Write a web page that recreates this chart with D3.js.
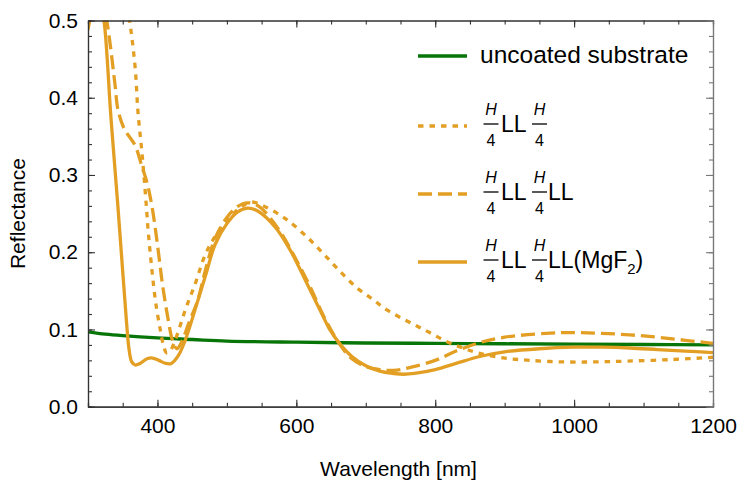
<!DOCTYPE html>
<html>
<head>
<meta charset="utf-8">
<script src="https://cdn.jsdelivr.net/npm/d3@7"></script>
<style>
  body { margin: 0; background: #fff; }
  svg text { font-family: "Liberation Sans", Arial, sans-serif; fill: #000; }
</style>
</head>
<body>
<svg id="chart" width="737" height="482"></svg>
<script>
// reflectance curves, [wavelength nm, reflectance]
var uncoated = [[300,0.097],[325,0.094],[350,0.092],[400,0.089],[450,0.087],[500,0.085],[600,0.0835],
  [700,0.0825],[800,0.082],[900,0.0815],[1000,0.081],[1100,0.0805],[1200,0.080]]

var quarterLL = [[300,0.72],[340,0.62],[360,0.5],[368,0.438],[372,0.381],[378,0.326],[384,0.26],[387,0.224],
  [397,0.138],[404,0.1],[408,0.082],[413,0.07],[418,0.072],[425,0.085],[440,0.125],[447,0.142],[454,0.158],
  [468,0.195],[480,0.216],[500,0.24],[518,0.257],[535,0.265],[555,0.259],[575,0.249],[591,0.239],[615,0.22],
  [638,0.199],[660,0.178],[687,0.154],[710,0.139],[731,0.125],[768,0.107],[792,0.096],[817,0.084],[840,0.076],
  [864,0.069],[900,0.063],[936,0.06],[984,0.058],[1030,0.058],[1076,0.059],[1140,0.061],[1200,0.064]]

var quarterLL2 = [[300,0.58],[315,0.55],[327,0.5],[339,0.416],[343,0.385],[352,0.36],[360,0.349],[368,0.338],
  [378,0.31],[385,0.29],[392,0.26],[400,0.21],[407,0.16],[415,0.115],[422,0.085],[428,0.075],[435,0.084],
  [445,0.108],[458,0.138],[470,0.18],[483,0.218],[500,0.245],[515,0.259],[530,0.264],[545,0.26],[560,0.247],
  [580,0.222],[600,0.19],[620,0.155],[640,0.116],[663,0.08],[680,0.062],[700,0.052],[720,0.048],[740,0.047],
  [760,0.05],[800,0.06],[830,0.072],[864,0.083],[900,0.09],[960,0.095],[1000,0.096],[1040,0.095],
  [1080,0.093],[1120,0.09],[1160,0.086],[1200,0.082]]

var quarterMgF2 = [[300,0.488],[305,0.51],[312,0.53],[318,0.52],[323,0.5],[333,0.375],[343,0.26],[350,0.175],
  [355,0.115],[359,0.075],[363,0.058],[368,0.054],[375,0.056],[385,0.062],[393,0.063],[402,0.06],[412,0.056],
  [420,0.056],[430,0.066],[440,0.086],[455,0.128],[470,0.172],[483,0.21],[500,0.237],[515,0.252],[530,0.257],
  [545,0.253],[570,0.232],[591,0.203],[615,0.16],[639,0.116],[648,0.1],[663,0.081],[680,0.065],[700,0.053],
  [720,0.046],[740,0.043],[755,0.042],[770,0.043],[800,0.048],[830,0.056],[864,0.065],[900,0.071],
  [950,0.075],[1000,0.077],[1040,0.077],[1080,0.076],[1120,0.074],[1160,0.072],[1200,0.070]]

var xTicks = [400, 600, 800, 1000, 1200]
var yTicks = [0, 0.1, 0.2, 0.3, 0.4, 0.5]
var xMinor = d3.range(300, 1201, 50)
var yMinor = d3.range(0, 0.501, 0.02)

var orange = "#e29f24"
var green = "#087508"

var series = [
  {data: uncoated, color: green, dash: null},
  {data: quarterLL, color: orange, dash: "5.5,6"},
  {data: quarterLL2, color: orange, dash: "14,6"},
  {data: quarterMgF2, color: orange, dash: null}
]

var width = 737, height = 482
var margin = {top: 20.5, right: 24, bottom: 75.3, left: 88}
var w = width - margin.left - margin.right
var h = height - margin.top - margin.bottom

var svg = d3.select("#chart")
var g = svg.append("g").attr("transform", "translate(" + margin.left + "," + margin.top + ")")

var x = d3.scaleLinear().domain([300, 1200]).range([0, w])
var y = d3.scaleLinear().domain([0, 0.5]).range([h, 0])

g.append("clipPath").attr("id", "clip")
  .append("rect").attr("width", w).attr("height", h)

var line = d3.line()
  .x(function(d) { return x(d[0]) })
  .y(function(d) { return y(d[1]) })
  .curve(d3.curveCatmullRom.alpha(0.5))

g.append("g").attr("clip-path", "url(#clip)")
  .selectAll("path")
  .data(series)
  .enter()
    .append("path")
    .attr("d", function(d) { return line(d.data) })
    .attr("fill", "none")
    .attr("stroke", function(d) { return d.color })
    .attr("stroke-width", 3.3)
    .attr("stroke-dasharray", function(d) { return d.dash })

// frame with inward ticks on all sides
function frameAxis(axis, tr, color) {
  var a = g.append("g").attr("transform", tr).call(axis)
  a.select(".domain").attr("stroke", color).attr("stroke-width", 1.2)
  a.selectAll(".tick line").attr("stroke", color).attr("stroke-width", 1.1)
  a.selectAll("text").attr("font-size", 21).attr("font-family", null).attr("fill", "#000")
  return a
}

frameAxis(d3.axisBottom(x).tickValues(xMinor).tickSize(-4).tickFormat(""), "translate(0," + h + ")", "#333")
frameAxis(d3.axisBottom(x).tickValues(xTicks).tickSizeInner(-7).tickSizeOuter(0).tickPadding(11).tickFormat(d3.format("d")), "translate(0," + h + ")", "#333")
frameAxis(d3.axisTop(x).tickValues(xMinor).tickSize(-4).tickFormat(""), "translate(0,0)", "#333")
frameAxis(d3.axisTop(x).tickValues(xTicks).tickSizeInner(-7).tickSizeOuter(0).tickFormat(""), "translate(0,0)", "#333")
frameAxis(d3.axisLeft(y).tickValues(yMinor).tickSize(-4).tickFormat(""), "translate(0,0)", "#333")
frameAxis(d3.axisLeft(y).tickValues(yTicks).tickSizeInner(-7).tickSizeOuter(0).tickPadding(10).tickFormat(d3.format(".1f")), "translate(0,0)", "#333")
frameAxis(d3.axisRight(y).tickValues(yMinor).tickSize(-4).tickFormat(""), "translate(" + w + ",0)", "#777")
frameAxis(d3.axisRight(y).tickValues(yTicks).tickSizeInner(-7).tickSizeOuter(0).tickFormat(""), "translate(" + w + ",0)", "#777")

// axis titles
svg.append("text")
  .attr("x", margin.left + w / 2 - 2)
  .attr("y", 476)
  .attr("text-anchor", "middle")
  .attr("font-size", 21)
  .text("Wavelength [nm]")

svg.append("text")
  .attr("transform", "translate(25," + (margin.top + h / 2) + ") rotate(-90)")
  .attr("text-anchor", "middle")
  .attr("font-size", 21)
  .text("Reflectance")

// legend
var legendY = [56, 126, 194, 262]
var lg = svg.append("g")

series.forEach(function(s, i) {
  lg.append("line")
    .attr("x1", 418).attr("x2", 467)
    .attr("y1", legendY[i]).attr("y2", legendY[i])
    .attr("stroke", s.color)
    .attr("stroke-width", 3.3)
    .attr("stroke-dasharray", s.dash)
})

lg.append("text")
  .attr("x", 480).attr("y", 63)
  .attr("font-size", 24.5)
  .text("uncoated substrate")

// H/4 fraction
function frac(cx, ly) {
  lg.append("text").attr("x", cx).attr("y", ly - 11)
    .attr("text-anchor", "middle").attr("font-size", 16).attr("font-style", "italic").text("H")
  lg.append("line").attr("x1", cx - 7.5).attr("x2", cx + 7.5)
    .attr("y1", ly - 2).attr("y2", ly - 2).attr("stroke", "#000").attr("stroke-width", 1.3)
  lg.append("text").attr("x", cx).attr("y", ly + 19.5)
    .attr("text-anchor", "middle").attr("font-size", 16).text("4")
}

var ly
ly = legendY[1]
frac(491, ly)
lg.append("text").attr("x", 501).attr("y", ly + 6).attr("font-size", 23).text("LL")
frac(539.5, ly)

ly = legendY[2]
frac(491, ly)
lg.append("text").attr("x", 501).attr("y", ly + 6).attr("font-size", 23).text("LL")
frac(539.5, ly)
lg.append("text").attr("x", 548).attr("y", ly + 6).attr("font-size", 23).text("LL")

ly = legendY[3]
frac(491, ly)
lg.append("text").attr("x", 501).attr("y", ly + 6).attr("font-size", 23).text("LL")
frac(539.5, ly)
var t = lg.append("text").attr("x", 548).attr("y", ly + 6).attr("font-size", 23)
t.append("tspan").text("LL(MgF")
t.append("tspan").attr("font-size", 15).attr("dy", 6).text("2")
t.append("tspan").attr("dy", -6).text(")")
</script>
</body>
</html>
